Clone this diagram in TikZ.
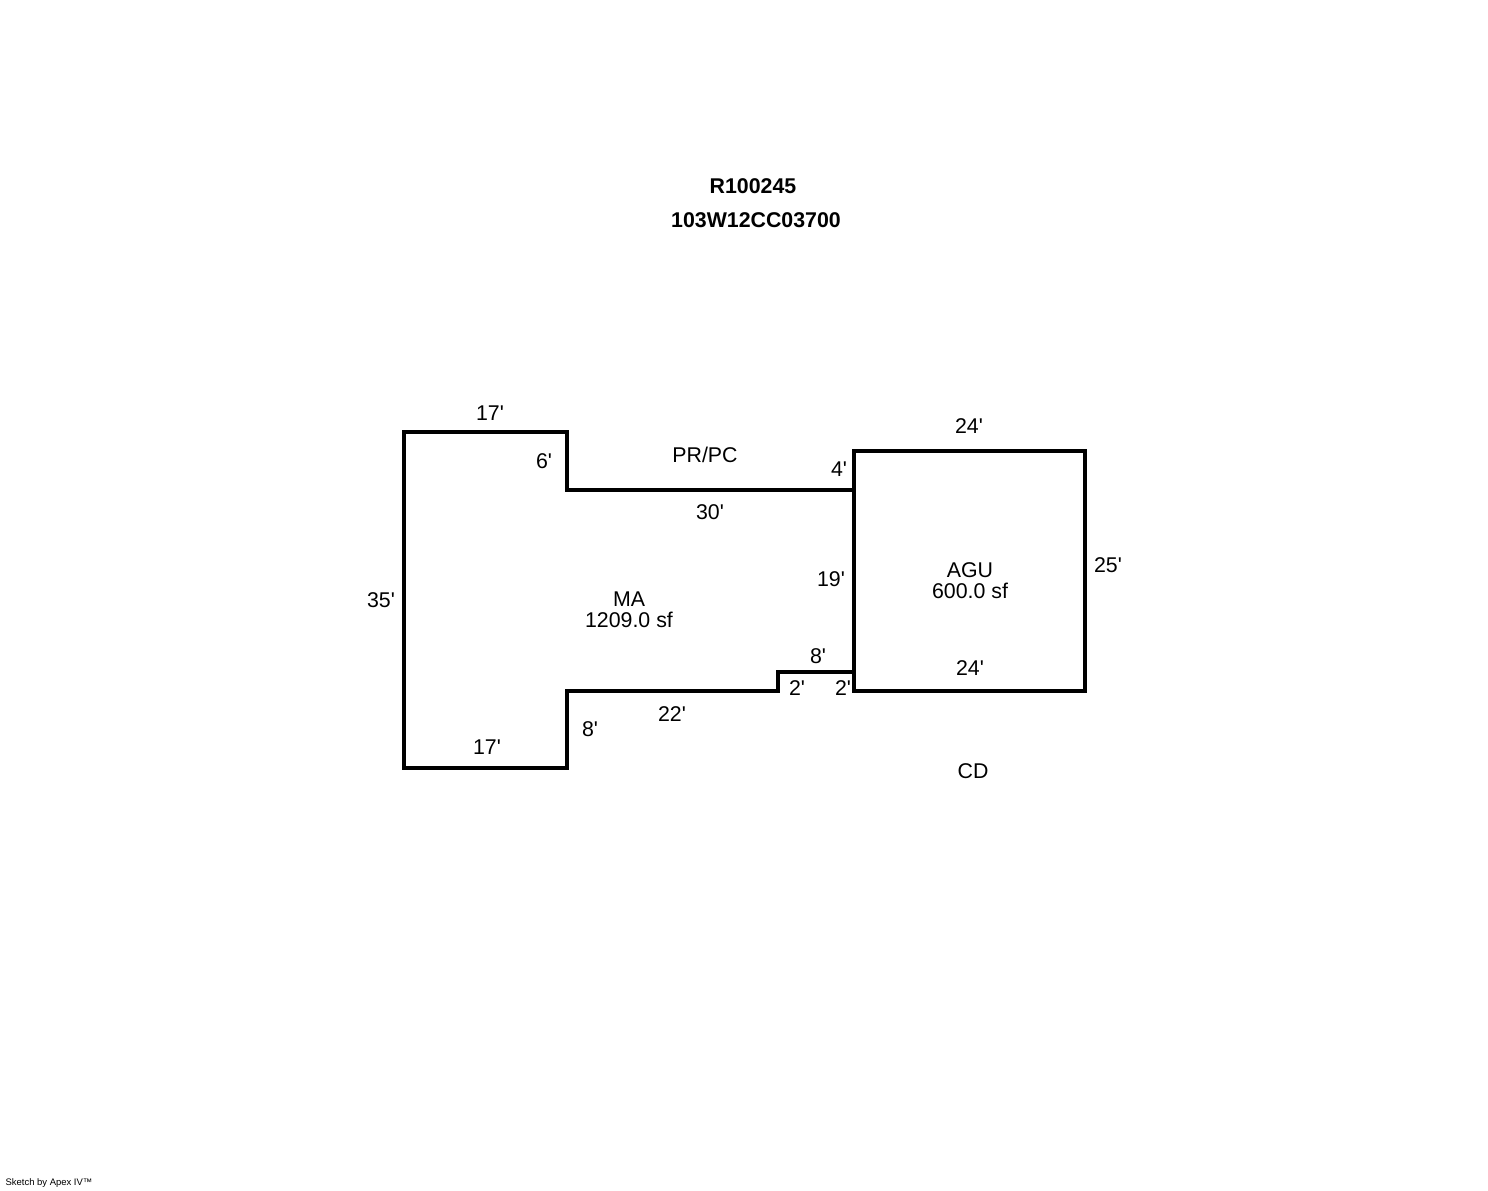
\documentclass[tikz,border=0pt]{standalone}
\usepackage{fontspec}
\setmainfont{Liberation Sans}
\usepackage{tikz}
\newcommand{\ft}{\textquotesingle}

\begin{document}
\begin{tikzpicture}[
  x=0.75pt, y=-0.75pt,
  font=\fontsize{16}{16}\selectfont,
  wall/.style={draw=black, line width=3pt, line join=miter},
  dim/.style={inner sep=0pt, anchor=center},
  area/.style={dim, align=center, font=\fontsize{16}{15.7}\selectfont},
  title/.style={dim, font=\fontsize{16}{16}\selectfont\bfseries},
]
\useasboundingbox (0,0) rectangle (1488,1190);

% --- Titles ---
\node[title] (TID) at (753,186) {R100245};
\node[title] (TMAP) at (756,220) {103W12CC03700};

% --- Outlines ---
\draw[wall] (404,432) -- (567,432) -- (567,490) -- (854,490) -- (854,672)
  -- (778,672) -- (778,691) -- (567,691) -- (567,768) -- (404,768) -- cycle;
\draw[wall] (854,451) rectangle (1085,691);

% --- Main area ---
\node[dim] (MAtop) at (490,413) {17\ft};
\node[dim] (MAin) at (544,461) {6\ft};
\node[dim] (PR) at (705,455) {PR/PC};
\node[dim] (PRb) at (710,512) {30\ft};
\node[dim] (PRs) at (839,469) {4\ft};
\node[dim] (MAl) at (381,600) {35\ft};
\node[area] (MA) at (629,609.5) {MA\\1209.0 sf};
\node[dim] (MAr) at (831,579) {19\ft};
\node[dim] (Bt) at (818,656) {8\ft};
\node[dim] (Ba) at (797,688) {2\ft};
\node[dim] (Bb) at (843,688) {2\ft};
\node[dim] (MAb) at (672,714) {22\ft};
\node[dim] (MAs) at (590,729) {8\ft};
\node[dim] (MAbot) at (487,747) {17\ft};

% --- Garage ---
\node[dim] (AGUt) at (969,426) {24\ft};
\node[area] (AGU) at (970,581) {AGU\\600.0 sf};
\node[dim] (AGUr) at (1108,565) {25\ft};
\node[dim] (AGUb) at (970,668) {24\ft};
\node[dim] (CD) at (973,771) {CD};

% --- Footer ---
\node[dim, font=\fontsize{7.1}{8}\selectfont] (FOOT) at (49,1183.5) {Sketch by Apex IV™};

\end{tikzpicture}
\end{document}
